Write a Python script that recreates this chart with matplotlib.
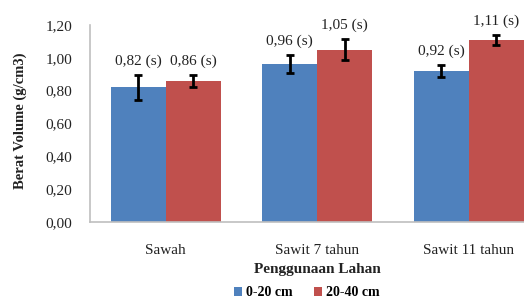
import matplotlib
matplotlib.use("Agg")
import matplotlib.pyplot as plt
import numpy as np
from matplotlib.patches import Patch

categories = ["Sawah", "Sawit 7 tahun", "Sawit 11 tahun"]
series_names = ["0-20 cm", "20-40 cm"]
val_0_20 = [0.82, 0.96, 0.92]
val_20_40 = [0.86, 1.05, 1.11]
err_0_20 = [0.075, 0.055, 0.035]
err_20_40 = [0.035, 0.063, 0.03]
labels_0_20 = ["0,82 (s)", "0,96 (s)", "0,92 (s)"]
labels_20_40 = ["0,86 (s)", "1,05 (s)", "1,11 (s)"]
yticks = [0.0, 0.2, 0.4, 0.6, 0.8, 1.0, 1.2]
ytick_labels = ["0,00", "0,20", "0,40", "0,60", "0,80", "1,00", "1,20"]

colors = ["#4F81BD", "#C0504D"]
font = "Liberation Serif"
plt.rcParams["font.family"] = [font, "DejaVu Serif"]

fig = plt.figure(figsize=(5.24, 2.98), dpi=100)
ax = fig.add_axes([90 / 524, 76 / 298, 454.5 / 524, 197 / 298])

x = np.arange(len(categories))
w = 0.363
for vals, errs, labs, c, off in [
    (val_0_20, err_0_20, labels_0_20, colors[0], -w / 2),
    (val_20_40, err_20_40, labels_20_40, colors[1], w / 2),
]:
    ax.bar(x + off, vals, width=w, color=c, edgecolor="none")
    ax.errorbar(x + off, vals, yerr=errs, fmt="none", ecolor="black",
                elinewidth=2, capsize=3, capthick=2)
    for xi, v, e, lab in zip(x + off, vals, errs, labs):
        ax.annotate(lab, (xi, v + e), xytext=(0, 10), textcoords="offset points",
                    ha="center", va="center", fontsize=11, color="#222222")

ax.set_xlim(-0.5, 2.5)
ax.set_ylim(0, 1.2)
ax.set_yticks(yticks)
ax.set_yticklabels(ytick_labels, fontsize=11, color="#222222")
ax.set_xticks(x)
ax.set_xticklabels(categories, fontsize=11, color="#222222")
ax.tick_params(axis="y", length=0, pad=13)
ax.tick_params(axis="x", length=0, pad=16)
for s in ["top", "right"]:
    ax.spines[s].set_visible(False)
for s in ["left", "bottom"]:
    ax.spines[s].set_color("#BFBFBF")
    ax.spines[s].set_linewidth(1.2)

fig.text(20 / 524, 1 - 121 / 298, "Berat Volume (g/cm3)", rotation=90,
         ha="center", va="center", fontsize=10.5, fontweight="bold", color="#222222")
fig.text(317 / 524, 1 - 270 / 298, "Penggunaan Lahan", ha="center", va="center",
         fontsize=11, fontweight="bold", color="#222222")

handles = [Patch(facecolor=colors[0]), Patch(facecolor=colors[1])]
fig.legend(handles, series_names, loc="center", bbox_to_anchor=(307 / 524, 1 - 293 / 298),
           ncol=2, frameon=False, prop={"family": font, "weight": "bold", "size": 10},
           handlelength=0.6, handleheight=0.6, handletextpad=0.3, columnspacing=1.5)

fig.savefig("out.png", dpi=100)
